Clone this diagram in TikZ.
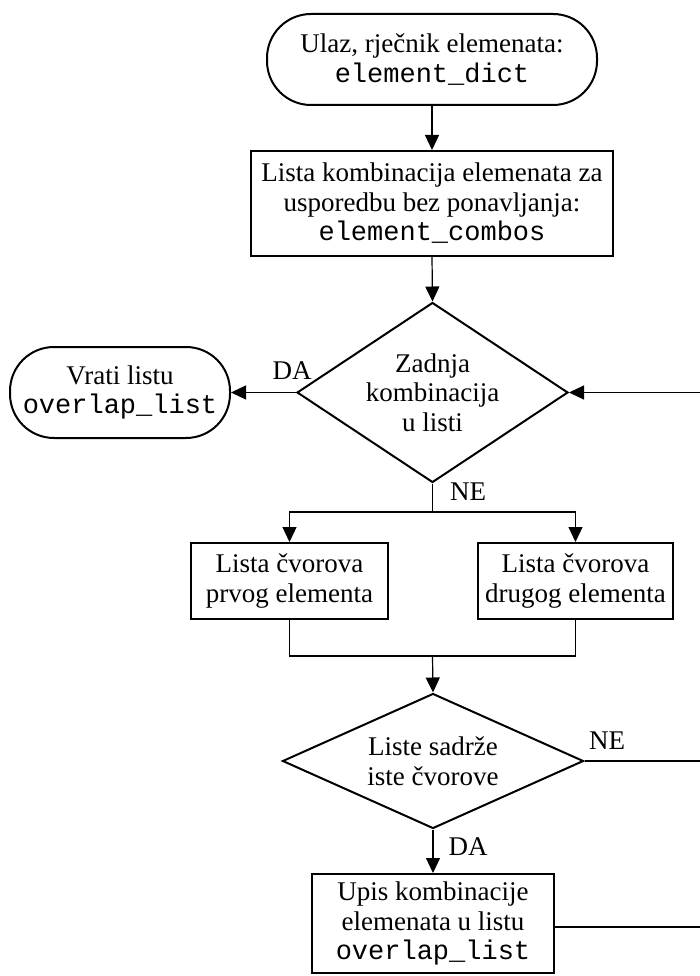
\documentclass[tikz,border=0pt]{standalone}
\usepackage{fontspec}
\setmainfont{Liberation Serif}
\setmonofont{Liberation Mono}
\usetikzlibrary{arrows.meta, shapes.geometric, positioning}

\begin{document}
\begin{tikzpicture}[
        x=1pt, y=-1pt,
        font=\fontsize{27}{29.5}\selectfont,
        >={Triangle[length=15pt, width=14pt]},
        term_box/.style={draw, line width=2pt, rounded corners=44pt, align=center, inner sep=0pt},
        proc_box/.style={draw, line width=2pt, align=center, inner sep=0pt},
        dec_box/.style={draw, line width=2pt, diamond, align=center, inner sep=0pt},
        conn/.style={line width=1.2pt},
        conn_arrow/.style={conn, ->}
    ]
    \useasboundingbox (0,0) rectangle (700,976);

    % ========================================================
    % 1. ULAZ I LISTA KOMBINACIJA
    % ========================================================
    \node[term_box, minimum width=330, minimum height=91] (start) at (432, 59.5)
        {Ulaz, rječnik elemenata:\\ \texttt{element\_dict}};
    \node[proc_box, minimum width=362, minimum height=105] (combos) at (432, 203.5)
        {Lista kombinacija elemenata za\\ usporedbu bez ponavljanja:\\ \texttt{element\_combos}};

    \draw[conn_arrow] (start.south) -- (combos.north);

    % ========================================================
    % 2. PRVA ODLUKA
    % ========================================================
    \node[dec_box, aspect=1.5, minimum width=271, minimum height=180] (last) at (432.5, 392.5)
        {Zadnja\\ kombinacija\\ u listi};
    \node[term_box, minimum width=220, minimum height=91] (ret) at (120, 392.5)
        {Vrati listu\\ \texttt{overlap\_list}};

    \draw[conn_arrow] (combos.south) -- (last.north);
    \draw[conn_arrow] (last.west) -- (ret.east);
    \node (lbl_da1) at (292, 371) {DA};

    % povratna grana (desni rub)
    \coordinate (loop_a) at (700, 392.5);
    \draw[conn_arrow] (loop_a) -- (last.east);

    % ========================================================
    % 3. LISTE CVOROVA
    % ========================================================
    \coordinate (split) at (432.5, 512);
    \coordinate (merge) at (432.5, 656);
    \node[proc_box, minimum width=197, minimum height=76] (nodes_a) at (289.5, 581)
        {Lista čvorova\\ prvog elementa};
    \node[proc_box, minimum width=195, minimum height=76] (nodes_b) at (575.5, 581)
        {Lista čvorova\\ drugog elementa};

    \draw[conn] (last.south) -- (split);
    \node (lbl_ne1) at (468, 492) {NE};
    \draw[conn_arrow] (split) -| (nodes_a.north);
    \draw[conn_arrow] (split) -| (nodes_b.north);
    \draw[conn] (nodes_a.south) |- (merge);
    \draw[conn] (nodes_b.south) |- (merge);

    % ========================================================
    % 4. DRUGA ODLUKA I UPIS
    % ========================================================
    \node[dec_box, aspect=2.2, minimum width=301, minimum height=135] (same) at (433, 761)
        {Liste sadrže\\ iste čvorove};
    \node[proc_box, minimum width=242, minimum height=99] (store) at (433, 923.5)
        {Upis kombinacije\\ elemenata u listu\\ \texttt{overlap\_list}};

    \draw[conn_arrow] (merge) -- (same.north);
    \draw[conn_arrow] (same.south) -- (store.north);
    \node (lbl_da2) at (468, 847) {DA};

    \coordinate (loop_b) at (700, 761);
    \coordinate (loop_c) at (700, 927);
    \draw[conn] (same.east) -- (loop_b);
    \node (lbl_ne2) at (607, 741) {NE};
    \draw[conn] (store.east |- loop_c) -- (loop_c);

\end{tikzpicture}
\end{document}
